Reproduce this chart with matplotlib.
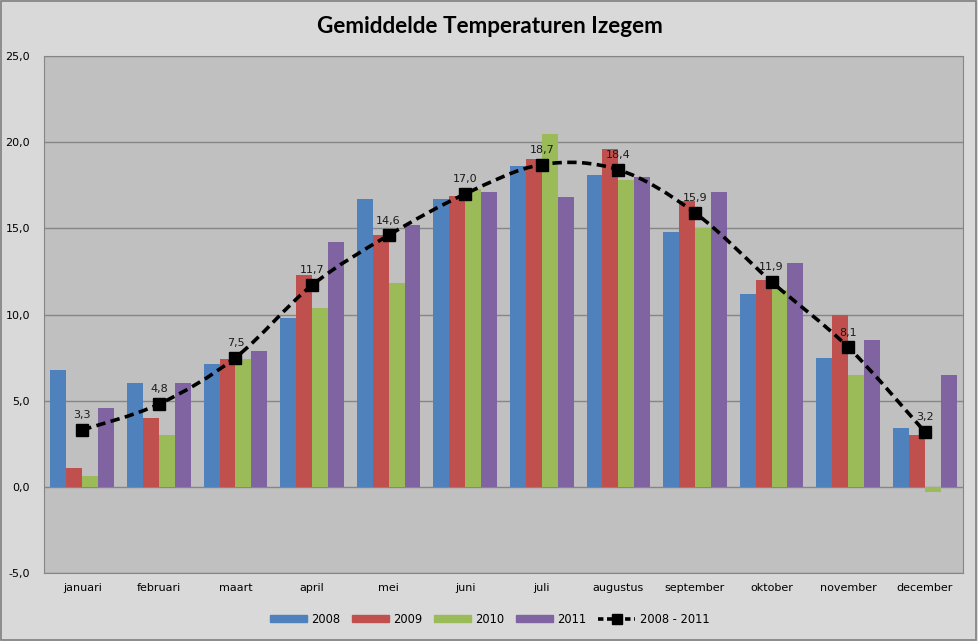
import numpy as np
import matplotlib
matplotlib.use('Agg')
import matplotlib.pyplot as plt
from matplotlib.path import Path
from matplotlib.patches import PathPatch, Rectangle
from matplotlib.lines import Line2D
from matplotlib.ticker import FuncFormatter

months = ['januari', 'februari', 'maart', 'april', 'mei', 'juni', 'juli',
          'augustus', 'september', 'oktober', 'november', 'december']
years = ['2008', '2009', '2010', '2011']
t2008 = [6.8, 6.0, 7.1, 9.8, 16.7, 16.7, 18.6, 18.1, 14.8, 11.2, 7.5, 3.4]
t2009 = [1.1, 4.0, 7.4, 12.3, 14.6, 16.9, 19.0, 19.6, 16.6, 12.0, 10.0, 3.0]
t2010 = [0.6, 3.0, 7.4, 10.4, 11.8, 17.3, 20.5, 17.8, 15.0, 11.4, 6.5, -0.3]
t2011 = [4.6, 6.0, 7.9, 14.2, 15.2, 17.1, 16.8, 18.0, 17.1, 13.0, 8.5, 6.5]
gemiddeld = [3.3, 4.8, 7.5, 11.7, 14.6, 17.0, 18.7, 18.4, 15.9, 11.9, 8.1, 3.2]

colors = ['#4F81BD', '#C0504D', '#9BBB59', '#8064A2']

fig = plt.figure(figsize=(9.79, 6.41), dpi=100)
fig.patch.set_facecolor('#D9D9D9')
ax = fig.add_axes([0.0449, 0.1061, 0.9388, 0.8065])
ax.set_facecolor('#C0C0C0')

x = np.arange(len(months))
w = 0.208
series = [t2008, t2009, t2010, t2011]
for i, (vals, c) in enumerate(zip(series, colors)):
    ax.bar(x + (i - 1.5) * w, vals, width=w, color=c, zorder=2)

# smoothed line (bezier through the points, like excel)
pts = np.column_stack([x, gemiddeld]).astype(float)
verts = [pts[0]]
codes = [Path.MOVETO]
for k in range(len(pts) - 1):
    p0 = pts[k - 1] if k > 0 else pts[k]
    p1, p2 = pts[k], pts[k + 1]
    p3 = pts[k + 2] if k + 2 < len(pts) else pts[k + 1]
    c1 = p1 + (p2 - p0) / 6.0
    c2 = p2 - (p3 - p1) / 6.0
    verts += [c1, c2, p2]
    codes += [Path.CURVE4] * 3
ax.add_patch(PathPatch(Path(verts, codes), fill=False, edgecolor='black',
                       lw=2.6, linestyle=(0, (2.6, 1.5)), zorder=3))
ax.plot(x, gemiddeld, linestyle='none', marker='s', ms=8, color='black', zorder=4)
for xi, v in zip(x, gemiddeld):
    ax.annotate(f'{v:.1f}'.replace('.', ','), (xi, v), xytext=(0, 7),
                textcoords='offset points', ha='center', va='bottom',
                fontsize=8, color='#1a1a1a', zorder=5)

ax.set_xlim(-0.5, 11.5)
ax.set_ylim(-5, 25)
ax.set_yticks(np.arange(-5, 26, 5))
ax.yaxis.set_major_formatter(FuncFormatter(lambda v, p: f'{v:.1f}'.replace('.', ',')))
ax.set_xticks(x)
ax.set_xticklabels(months)
ax.tick_params(axis='both', length=0, labelsize=8, colors='black')
ax.tick_params(axis='x', pad=7)
ax.tick_params(axis='y', pad=10)
ax.grid(axis='y', color='#868686', lw=1, zorder=1)
for s in ax.spines.values():
    s.set_color('#868686')

fig.text(0.5, 0.959, 'Gemiddelde Temperaturen Izegem', ha='center', va='center',
         fontsize=16.2, fontweight='bold', family='Lato')

handles = [Rectangle((0, 0), 1, 1, color=c) for c in colors]
handles.append(Line2D([], [], color='black', lw=2.6, linestyle=(0, (1.5, 1)),
                      marker='s', ms=7))
fig.legend(handles, years + ['2008 - 2011'], loc='center', bbox_to_anchor=(0.5, 0.034),
           ncol=5, frameon=False, fontsize=8.3, handlelength=3.2, handleheight=0.55,
           columnspacing=1.0, handletextpad=0.4)

fig.add_artist(Rectangle((0.001, 0.002), 0.996, 0.996, transform=fig.transFigure,
                         fill=False, edgecolor='#7f7f7f', lw=1.2))

fig.savefig('out.png', dpi=100, facecolor=fig.get_facecolor())
